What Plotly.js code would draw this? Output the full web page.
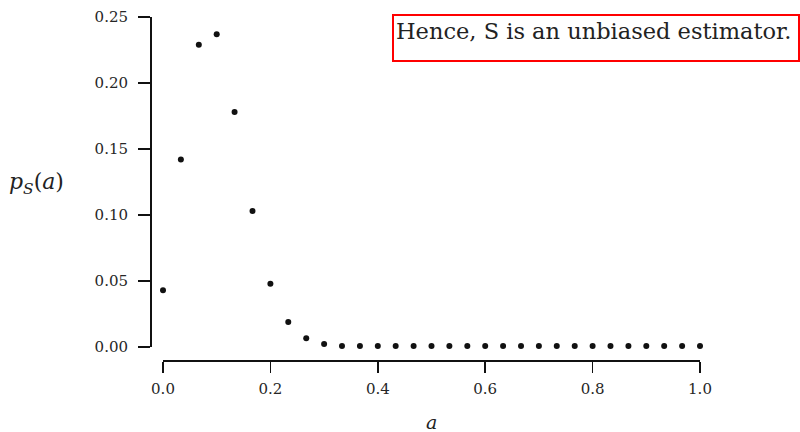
<!DOCTYPE html>
<html>
<head>
<meta charset="utf-8">
<script src="https://cdn.plot.ly/plotly-3.0.1.min.js"></script>
<style>html,body{margin:0;padding:0;background:#fff;}#chart{width:800px;height:432px;}</style>
</head>
<body>
<div id="chart"></div>
<script>
// Values
const aValues = [0.0, 0.0333, 0.0667, 0.1, 0.1333, 0.1667, 0.2, 0.2333, 0.2667, 0.3,
  0.3333, 0.3667, 0.4, 0.4333, 0.4667, 0.5, 0.5333, 0.5667, 0.6, 0.6333,
  0.6667, 0.7, 0.7333, 0.7667, 0.8, 0.8333, 0.8667, 0.9, 0.9333, 0.9667, 1.0];
const pValues = [0.043, 0.142, 0.229, 0.237, 0.178, 0.103, 0.048, 0.019, 0.0066, 0.0022,
  0.0008, 0.0008, 0.0008, 0.0008, 0.0008, 0.0008, 0.0008, 0.0008, 0.0008, 0.0008,
  0.0008, 0.0008, 0.0008, 0.0008, 0.0008, 0.0008, 0.0008, 0.0008, 0.0008, 0.0008, 0.0008];
const xTickVals = [0, 0.2, 0.4, 0.6, 0.8, 1.0];
const xTickText = ['0.0', '0.2', '0.4', '0.6', '0.8', '1.0'];
const yTickVals = [0, 0.05, 0.10, 0.15, 0.20, 0.25];
const yTickText = ['0.00', '0.05', '0.10', '0.15', '0.20', '0.25'];
const noteText = 'Hence, S is an unbiased estimator.';

const serif = 'DejaVu Serif, Liberation Serif, serif';
const tickFont = {family: serif, size: 15, color: '#262626'};

const trace = {
  x: aValues, y: pValues, type: 'scatter', mode: 'markers',
  marker: {color: '#111111', size: 6},
  cliponaxis: false, hoverinfo: 'skip'
};

const layout = {
  width: 800, height: 432,
  margin: {l: 151, r: 100, t: 17, b: 71},
  paper_bgcolor: '#ffffff', plot_bgcolor: '#ffffff',
  showlegend: false,
  xaxis: {
    domain: [12/549, 1], range: [0, 1], anchor: 'free', position: 0,
    showline: true, linecolor: '#111', linewidth: 2,
    ticks: 'outside', ticklen: 11, tickwidth: 1.6, tickcolor: '#111',
    ticklabelstandoff: 3,
    tickvals: xTickVals, ticktext: xTickText, tickfont: tickFont,
    showgrid: false, zeroline: false, fixedrange: true
  },
  yaxis: {
    domain: [14/344, 1], range: [0, 0.25], anchor: 'free', position: 0,
    showline: true, linecolor: '#111', linewidth: 2,
    ticks: 'outside', ticklen: 12, tickwidth: 1.6, tickcolor: '#111',
    ticklabelstandoff: 7,
    tickvals: yTickVals, ticktext: yTickText, tickfont: tickFont,
    showgrid: false, zeroline: false, fixedrange: true
  },
  annotations: [
    {
      xref: 'paper', yref: 'paper', x: (431.5 - 151) / 549, y: (361 - 422) / 344,
      xanchor: 'center', yanchor: 'middle', showarrow: false,
      text: '<i>a</i>', font: {family: serif, size: 19, color: '#222'}
    },
    {
      xref: 'paper', yref: 'paper', x: (36 - 151) / 549, y: (361 - 183) / 344,
      xanchor: 'center', yanchor: 'middle', showarrow: false,
      text: '<i>p</i><sub><i>S</i></sub>(<i>a</i>)', font: {family: serif, size: 22, color: '#222'}
    },
    {
      xref: 'paper', yref: 'paper', x: (800 - 151) / 549, y: (361 - 13.5) / 344,
      xanchor: 'right', yanchor: 'top', showarrow: false,
      text: noteText, font: {family: serif, size: 22.5, color: '#222'},
      bordercolor: '#ff0000', borderwidth: 2, borderpad: 2, bgcolor: '#ffffff',
      width: 400, height: 40, align: 'left', valign: 'top'
    }
  ]
};

Plotly.newPlot('chart', [trace], layout, {displayModeBar: false, staticPlot: true});
</script>
</body>
</html>
